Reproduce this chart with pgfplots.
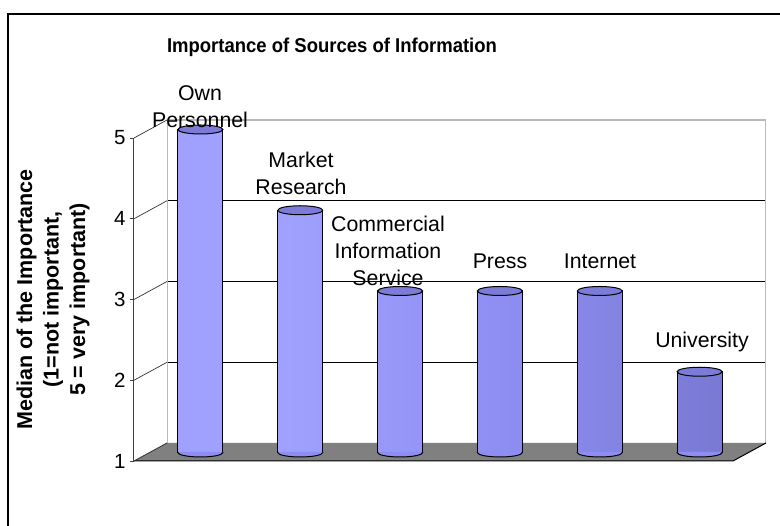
\documentclass[border=0pt]{standalone}
\usepackage{pgfplots}
\pgfplotsset{compat=1.18}
\usepackage{fontspec}
\setmainfont{Liberation Sans}
\definecolor{cA}{HTML}{8484E8}
\definecolor{cB}{HTML}{A0A0FF}
\definecolor{cC}{HTML}{8E8EF2}
\definecolor{cD}{HTML}{7474CC}
\definecolor{cE}{HTML}{8A8AE0}
\definecolor{cF}{HTML}{6060B0}
\definecolor{cTop}{HTML}{7C7CD8}
\definecolor{floorgray}{HTML}{808080}
\pgfdeclarehorizontalshading{cyl}{100bp}{color(0bp)=(cA); color(12bp)=(cB); color(35bp)=(cB); color(55bp)=(cC); color(80bp)=(cD); color(88bp)=(cE); color(95bp)=(cD); color(100bp)=(cF)}
\pgfdeclareplotmark{cyltop}{%
  \pgfpathellipse{\pgfpointorigin}{\pgfqpoint{22.5pt}{0pt}}{\pgfqpoint{0pt}{4.5pt}}%
  \pgfusepathqfillstroke}
\pgfdeclareplotmark{cylbot}{%
  \pgfpathmoveto{\pgfqpoint{-22.5pt}{0.5pt}}%
  \pgfpathlineto{\pgfqpoint{-22.5pt}{0pt}}%
  \pgfpatharc{180}{360}{22.5pt and 4.5pt}%
  \pgfpathlineto{\pgfqpoint{22.5pt}{0.5pt}}%
  \pgfusepathqfillstroke}
\pgfplotstableread{
x val
0 5
1 4
2 3
3 3
4 3
5 2
}\datatable
\pgfplotstableread{
x val
0 1
1 1
2 1
3 1
4 1
5 1
}\basetable
\begin{document}
\begin{tikzpicture}[x=1pt,y=1pt]
\useasboundingbox (0,0) rectangle (780,526);
\fill[white] (0,0) rectangle (780,526);
% back wall
\begin{axis}[at={(167pt,83pt)}, anchor=south west, scale only axis,
  width=599pt, height=323pt, xmin=-0.5, xmax=5.5, ymin=1, ymax=5,
  xtick=\empty, ytick={2,3,4}, yticklabels={}, major tick length=0pt,
  ymajorgrids, grid style={black, line width=0.8pt},
  axis line style={draw=none}]
\addplot[draw=none] coordinates {(0,1)};
\draw[gray!55, line width=1.6pt] (rel axis cs:0,0) -- (rel axis cs:0,1) -- (rel axis cs:1,1) -- (rel axis cs:1,0);
\end{axis}
% floor
\fill[floorgray] (134,65) -- (733,65) -- (766,83) -- (167,83) -- cycle;
\draw[black, line width=1pt] (134,65) -- (733,65) -- (766,83);
\draw[black!80, line width=0.8pt] (134,65) -- (167,83);
% side connectors
\foreach \v in {2,3,4,5} {
  \draw[black!80, line width=0.7pt] (134,{65+(\v-1)*80.75}) -- (167,{83+(\v-1)*80.75});
}
% bars (mid depth)
\begin{axis}[at={(150.5pt,73.5pt)}, anchor=south west, scale only axis,
  width=599pt, height=323pt, xmin=-0.5, xmax=5.5, ymin=1, ymax=5,
  hide axis, clip mode=individual]
\addplot[ybar, bar width=45pt, draw=black, line width=1pt, shade, shading=cyl]
  table[x=x, y=val] {\datatable};
\addplot[only marks, mark=cylbot, mark options={fill=cC, draw=black, line width=1pt}]
  table[x=x, y=val] {\basetable};
\addplot[only marks, mark=cyltop, mark options={fill=cTop, draw=black, line width=1pt}]
  table[x=x, y=val] {\datatable};
\end{axis}
% front axis
\begin{axis}[at={(134pt,65pt)}, anchor=south west, scale only axis,
  width=599pt, height=323pt, xmin=-0.5, xmax=5.5, ymin=1, ymax=5,
  axis x line=none, axis y line*=left, xtick=\empty, ytick={1,2,3,4,5},
  tick align=outside, major tick length=4pt,
  axis line style={draw=black!75, line width=1pt},
  tick style={draw=black!75, line width=0.8pt},
  /pgf/number format/assume math mode=true,
  yticklabel style={font=\fontsize{20.5}{24}\selectfont, xshift=-1pt},
  ylabel={Median of the Importance\\(1=not important,\\5 = very important)},
  every axis y label/.style={at={(axis description cs:-0.1352,0.5)}, rotate=90,
    anchor=center, align=center,
    font=\bfseries\fontsize{21.5}{26.5}\selectfont}]
\addplot[draw=none] coordinates {(0,1)};
\end{axis}
% title
\node[font=\bfseries\fontsize{18.5}{22}\selectfont, yscale=1.08] at (332,479) {Importance of Sources of Information};
% category labels
\begin{scope}[every node/.style={font=\fontsize{21.3}{27}\selectfont, align=center}]
\node at (200,419) {Own\\Personnel};
\node at (301,353) {Market\\Research};
\node at (388,275) {Commercial\\Information\\Service};
\node at (500,265) {Press};
\node at (600,265) {Internet};
\node at (702,184) {University};
\end{scope}
% outer border
\draw[black, line width=1.5pt] (8,0) -- (8,512) -- (780,512);
\end{tikzpicture}
\end{document}
